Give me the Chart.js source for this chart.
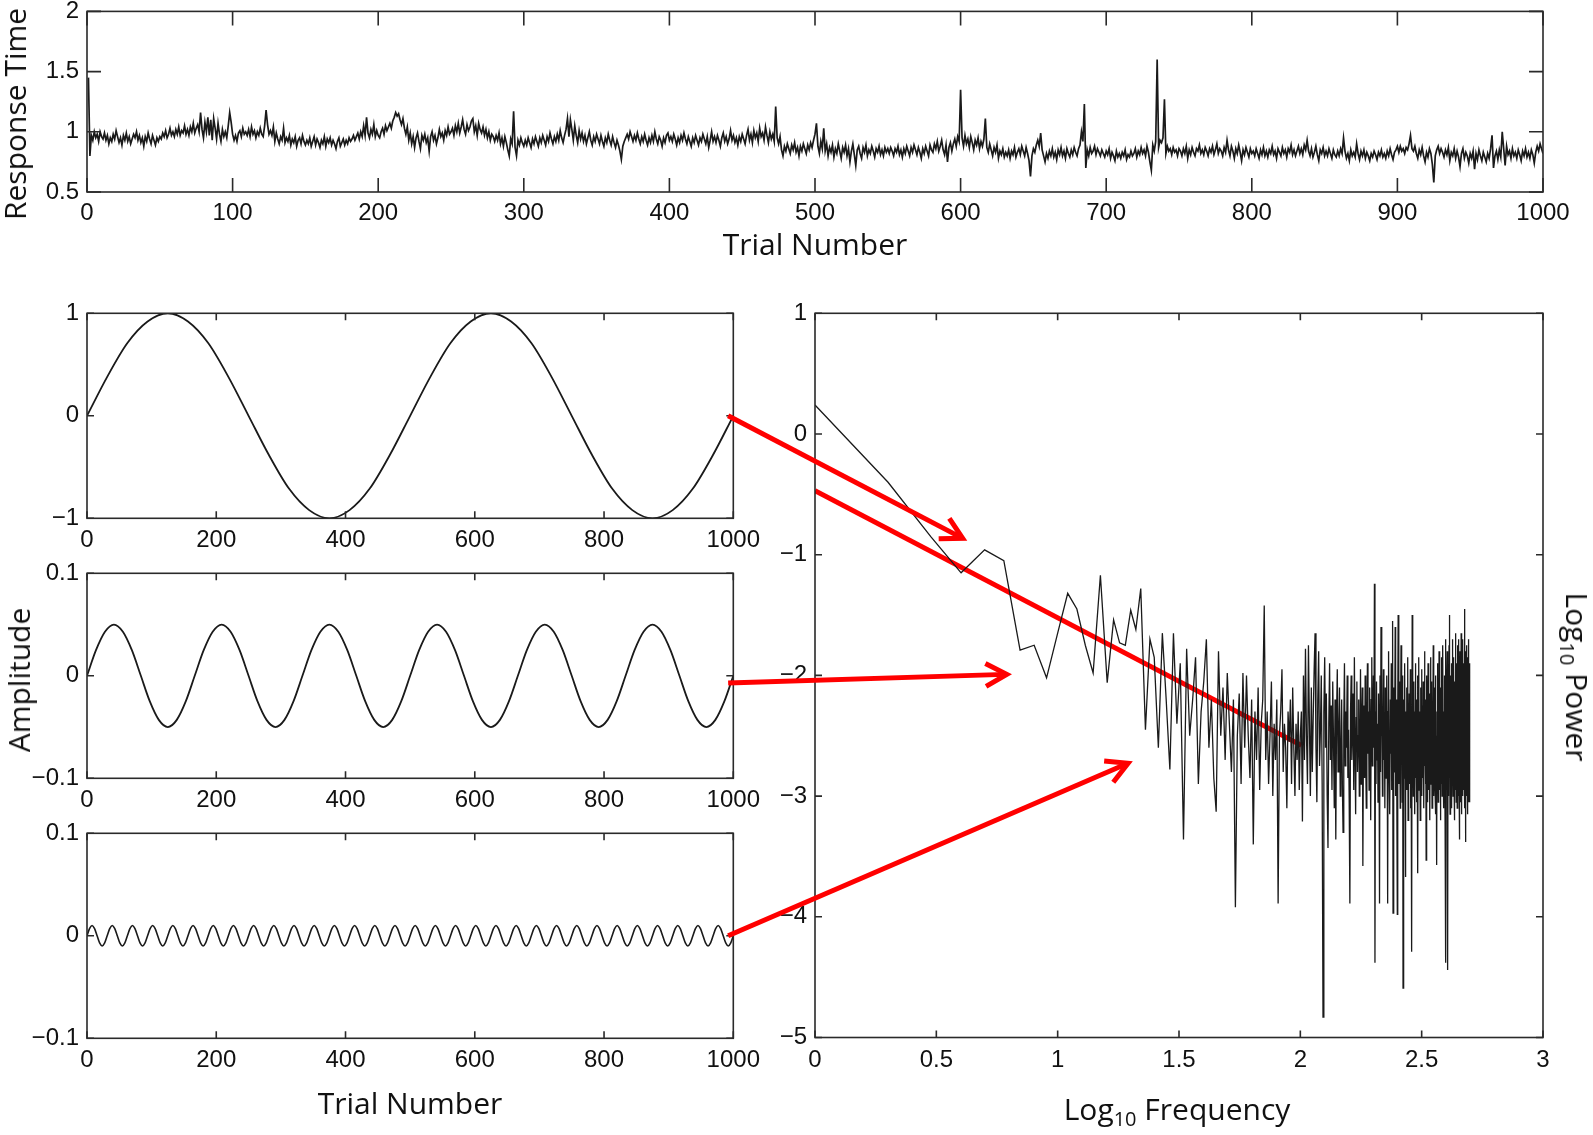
<!DOCTYPE html>
<html><head><meta charset="utf-8">
<script src="https://cdn.jsdelivr.net/npm/chart.js@4.4.1/dist/chart.umd.min.js"></script>
<style>
html,body{margin:0;padding:0;background:#fff;overflow:hidden}
#wrap{position:relative;width:1593px;height:1135px;background:#fff;overflow:hidden}
canvas{position:absolute;left:-40px;top:-40px}
.t{position:absolute;font-family:"Open Sans",sans-serif;font-size:30px;line-height:1;color:#111;white-space:nowrap}
.s{font-size:20px;position:relative;top:6px}
</style></head>
<body><div id="wrap">
<canvas id="cTop" width="1673" height="1215"></canvas>
<canvas id="cS1" width="1673" height="1215"></canvas>
<canvas id="cS2" width="1673" height="1215"></canvas>
<canvas id="cS3" width="1673" height="1215"></canvas>
<canvas id="cSpec" width="1673" height="1215"></canvas>
<div class="t" style="left:15px;top:114px;transform:translate(-50%,-50%) rotate(-90deg)">Response Time</div>
<div class="t" style="left:815px;top:244px;transform:translate(-50%,-50%)">Trial Number</div>
<div class="t" style="left:19px;top:680px;transform:translate(-50%,-50%) rotate(-90deg)">Amplitude</div>
<div class="t" style="left:410px;top:1103px;transform:translate(-50%,-50%)">Trial Number</div>
<div class="t" style="left:1177px;top:1109px;transform:translate(-50%,-50%)">Log<span class="s">10</span> Frequency</div>
<div class="t" style="left:1577px;top:677px;transform:translate(-50%,-50%) rotate(90deg)">Log<span class="s">10</span> Power</div>
</div>
<script>
// ---------- DATA ----------
const responseTimes = [
1.45,.80,.97,.93,1.0,.95,.98,.92,1.0,.96, .94,.99,.93,.97,.90,.95,.92,.98,.94,1.01, .96,.91,.95,.89,.97,.93,.99,.92,.96,.90, .94,.98,.95,1.0,.93,.97,.91,.95,.88,.96, .92,.99,.94,.90,.97,.93,.89,.95,.92,.96,
.94,.99,.96,1.01,.95,.98,1.03,.97,1.0,.96, 1.02,.98,1.04,.97,1.01,.99,1.05,.98,1.02,.97, 1.04,1.0,1.07,.99,1.03,1.06,1.0,1.16,1.02,.95, 1.08,1.0,1.12,.97,1.10,.93,1.11,1.03,.94,1.07, .98,.92,1.02,.96,1.0,.95,1.05,1.16,1.08,.98,
.93,.97,.92,.99,1.01,.96,1.03,.98,1.0,.97, 1.02,.96,1.04,.98,1.01,.95,1.0,.97,1.03,.98, .96,1.05,1.18,1.06,.98,1.01,.97,1.04,.92,.99, .94,.90,.96,.93,1.03,.91,.95,.92,.97,.89, .94,.91,.96,.88,.93,.95,.90,.97,.92,.89,
.93,.90,.95,.88,.92,.96,.89,.94,.91,.87, .93,.90,.96,.88,.94,.91,.95,.89,.93,.90, .86,.92,.95,.88,.91,.94,.89,.93,.90,.95, .92,.94,.97,.93,.96,.99,.94,1.0,.96,1.05, .97,1.12,.99,.95,1.02,.98,1.06,.96,1.01,.97,
.95,1.0,1.03,.98,1.05,1.01,1.04,1.07,1.03,1.09, 1.12,1.16,1.13,1.15,1.10,1.06,1.11,1.03,.98,1.04, .93,.99,.90,.96,.87,.95,.99,.92,.86,.97, .93,.98,.91,.95,.84,.96,1.0,.93,.97,.90, .95,1.02,.96,.99,.93,1.01,.97,1.04,.98,1.0,
1.03,.97,1.05,1.0,1.07,.99,1.04,1.10,1.02,.98, 1.06,1.01,1.04,1.09,1.11,1.0,1.05,.97,1.07,1.02, .99,1.04,.97,1.02,.95,1.0,.93,.98,.96,.92, .97,.93,.99,.90,.95,.88,.96,.91,.85,.80, .94,.90,1.17,.87,.80,.93,.89,.95,.91,.88,
.93,.89,.95,.91,.87,.94,.90,.96,.92,.88, .95,.91,.97,.93,.89,.96,.92,.99,.94,.90, .96,.92,.98,.93,1.01,.95,.91,.97,1.02,1.11, .96,1.10,1.02,.93,1.05,.97,.91,1.01,.94,.99, .92,.97,.90,.95,1.0,.93,.89,.96,.92,.98,
.94,.90,.97,.92,.88,.95,.91,.98,.93,.89, .96,.91,.87,.93,.89,.84,.77,.88,.92,.95, .98,.94,1.0,.96,.92,.97,.93,.99,.94,.90, .96,.92,.98,.93,.89,.95,.91,.97,.92,1.0, .94,.90,.96,.93,.88,.95,.91,.97,.99,.93,
.96,.92,.98,.94,.89,.95,.91,.97,.93,.99, .94,.90,.96,.92,.88,.95,.91,.97,.93,.89, .95,.92,.98,.94,.90,.96,.87,.93,1.0,.92, .96,.91,.97,.93,.88,.95,.99,.92,.96,.90, .94,1.01,.93,.97,.91,.95,.89,.96,.92,.98,
.94,.90,.97,1.02,.93,.98,.91,1.01,.95,.99, .92,1.03,.96,.99,.93,1.04,.97,.91,1.0,.94, .98,.92,1.21,.95,.90,.96,.85,.80,.88,.84, .90,.86,.82,.89,.85,.91,.83,.87,.80,.88, .84,.90,.86,.82,.89,.85,.91,.87,.93,.98,
1.07,.88,.82,.92,.86,1.03,.84,.90,.80,.87, .83,.89,.79,.86,.82,.90,.84,.78,.87,.83, .89,.80,.86,.75,.84,.90,.81,.72,.85,.88, .82,.78,.87,.83,.89,.80,.85,.82,.88,.84, .79,.86,.83,.88,.81,.85,.80,.87,.83,.86,
.82,.87,.84,.80,.86,.83,.88,.81,.85,.79, .86,.82,.88,.84,.80,.87,.83,.89,.85,.81, .87,.83,.78,.86,.82,.88,.84,.80,.89,.85, .83,.90,.86,.92,.84,.88,.93,.85,.81,.89, .75,.87,.91,.84,.90,.94,.88,.96,.92,1.35,
.95,.88,.97,.90,.94,.87,.96,.91,.85,.93, .89,.95,.86,.92,.88,.94,1.11,.87,.83,.90, .85,.80,.87,.83,.89,.78,.84,.81,.86,.79, .83,.80,.85,.78,.84,.81,.87,.79,.83,.86, .81,.88,.84,.80,.87,.82,.76,.63,.80,.86,
.83,.89,.93,.88,.99,.85,.80,.75,.82,.78, .84,.80,.86,.79,.83,.77,.85,.81,.87,.80, .84,.78,.86,.82,.79,.85,.81,.87,.83,.80, .86,.89,1.0,.92,1.23,.70,.85,.80,.87,.82, .84,.88,.81,.86,.83,.80,.85,.82,.79,.84,
.81,.86,.78,.83,.80,.76,.84,.79,.82,.78, .83,.80,.85,.77,.81,.79,.84,.80,.82,.86, .79,.84,.81,.87,.82,.85,.80,.88,.83,.75, .68,.89,.84,.92,1.60,.87,.93,.91,.95,1.27, .82,.88,.84,.86,.81,.87,.83,.85,.80,.86,
.84,.80,.86,.82,.88,.78,.85,.81,.87,.83, .80,.86,.84,.89,.82,.85,.81,.87,.84,.80, .86,.83,.88,.81,.85,.90,.82,.86,.84,.80, .87,.83,.93,.85,.80,.88,.84,.78,.86,.82, .89,.83,.76,.85,.81,.87,.83,.79,.86,.82,
.84,.80,.86,.82,.78,.85,.81,.87,.80,.84, .79,.85,.82,.88,.81,.84,.78,.86,.83,.80, .87,.82,.85,.79,.86,.83,.89,.81,.85,.80, .84,.88,.82,.86,.81,.89,.85,.93,.84,.80, .86,.79,.83,.88,.81,.76,.85,.82,.87,.80,
.84,.80,.86,.82,.78,.85,.81,.79,.84,.80, .86,.82,.95,.84,.78,.82,.76,.85,.80,.83, .79,.90,.82,.77,.84,.80,.85,.78,.83,.80, .76,.82,.79,.84,.81,.77,.83,.80,.85,.79, .82,.78,.84,.80,.86,.81,.77,.83,.85,.88,
.83,.88,.84,.86,.82,.87,.85,.90,.97,.86, .84,.88,.82,.78,.85,.81,.87,.80,.75,.83, .79,.86,.82,.73,.58,.80,.85,.88,.82,.86, .83,.79,.85,.81,.87,.76,.83,.80,.86,.78, .84,.79,.71,.82,.86,.78,.83,.80,.74,.82,
.78,.84,.69,.82,.77,.85,.80,.76,.83,.79, .75,.82,.78,.86,.97,.70,.80,.84,.77,.85, .79,1.0,.86,.72,.88,.81,.84,.78,.86,.80, .83,.78,.85,.81,.76,.84,.80,.86,.79,.83, .78,.85,.81,.74,.83,.88,.84,.90,.86,.82
];

// sine components, sampled at evenly spaced trials from 0 to 1000
const sine1Values = [
0,.38,.71,.92,1,.92,.71,.38,0,-.38,-.71,-.92,-1,-.92,-.71,-.38,
0,.38,.71,.92,1,.92,.71,.38,0,-.38,-.71,-.92,-1,-.92,-.71,-.38,
0];
const sine2Values = [
0,.025,.043,.05,.043,.025,0,-.025,-.043,-.05,-.043,-.025,
0,.025,.043,.05,.043,.025,0,-.025,-.043,-.05,-.043,-.025,
0,.025,.043,.05,.043,.025,0,-.025,-.043,-.05,-.043,-.025,
0,.025,.043,.05,.043,.025,0,-.025,-.043,-.05,-.043,-.025,
0,.025,.043,.05,.043,.025,0,-.025,-.043,-.05,-.043,-.025,
0,.025,.043,.05,.043,.025,0,-.025,-.043,-.05,-.043,-.025,
0];
const sine3Values = [
0,.007,.01,.007,0,-.007,-.01,-.007, 0,.007,.01,.007,0,-.007,-.01,-.007, 0,.007,.01,.007,0,-.007,-.01,-.007, 0,.007,.01,.007,0,-.007,-.01,-.007,
0,.007,.01,.007,0,-.007,-.01,-.007, 0,.007,.01,.007,0,-.007,-.01,-.007, 0,.007,.01,.007,0,-.007,-.01,-.007, 0,.007,.01,.007,0,-.007,-.01,-.007,
0,.007,.01,.007,0,-.007,-.01,-.007, 0,.007,.01,.007,0,-.007,-.01,-.007, 0,.007,.01,.007,0,-.007,-.01,-.007, 0,.007,.01,.007,0,-.007,-.01,-.007,
0,.007,.01,.007,0,-.007,-.01,-.007, 0,.007,.01,.007,0,-.007,-.01,-.007, 0,.007,.01,.007,0,-.007,-.01,-.007, 0,.007,.01,.007,0,-.007,-.01,-.007,
0,.007,.01,.007,0,-.007,-.01,-.007, 0,.007,.01,.007,0,-.007,-.01,-.007, 0,.007,.01,.007,0,-.007,-.01,-.007, 0,.007,.01,.007,0,-.007,-.01,-.007,
0,.007,.01,.007,0,-.007,-.01,-.007, 0,.007,.01,.007,0,-.007,-.01,-.007, 0,.007,.01,.007,0,-.007,-.01,-.007, 0,.007,.01,.007,0,-.007,-.01,-.007,
0,.007,.01,.007,0,-.007,-.01,-.007, 0,.007,.01,.007,0,-.007,-.01,-.007, 0,.007,.01,.007,0,-.007,-.01,-.007, 0,.007,.01,.007,0,-.007,-.01,-.007,
0,.007,.01,.007,0,-.007,-.01,-.007, 0,.007,.01,.007,0,-.007,-.01,-.007, 0,.007,.01,.007,0,-.007,-.01,-.007, 0,.007,.01,.007,0,-.007,-.01,-.007,
0];

const spectrumPower = [
.24,-.40,-.85,-1.15,-.96,-1.05,-1.79,-1.75,-2.02,-1.65,
-1.32,-1.45,-1.75,-1.98,-1.17,-2.06,-1.54,-1.73,-1.75,-1.46,
-1.62,-1.28,-2.45,-1.7,-1.85,-2.6,-1.65,-2.2,-2.78,-1.65,
-2.4,-1.9,-3.36,-1.78,-2.5,-2.2,-1.85,-2.9,-2.3,-2.05,
-1.7,-2.6,-2.2,-2.85,-3.13,-1.8,-2.5,-2.1,-2.7,-1.98,
-2.4,-2.8,-2.2,-3.92,-2.5,-2.15,-2.9,-1.98,-2.6,-2.0,
-2.5,-2.85,-2.2,-3.4,-2.3,-2.7,-2.1,-2.95,-2.4,-2.2,
-1.42,-2.7,-2.3,-2.9,-2.5,-2.05,-3.0,-2.4,-2.7,-2.2,
-3.89,-2.5,-2.3,-1.95,-2.8,-2.4,-2.6,-3.1,-2.3,-2.55,
-2.2,-2.9,-2.1,-2.6,-3.0,-2.4,-2.7,-2.3,-2.95,-2.5,
-2.3,-3.21,-2.0,-2.7,-1.78,-2.5,-2.9,-1.75,-2.4,-3.0,-2.1,-2.8,-2.35,-1.95,-1.65,-2.6,-3.05,-2.2,-1.8,-2.75,
-2.45,-2.0,-2.9,-4.83,-2.3,-1.85,-2.6,-2.15,-3.0,-3.43,-2.4,-1.9,-2.7,-2.25,-2.95,-2.05,-2.55,-3.1,-2.2,-3.36,
-2.35,-1.95,-2.8,-2.5,-2.1,-3.0,-2.65,-2.2,-2.9,-3.3,-2.4,-1.9,-2.75,-2.3,-2.6,-2.0,-2.85,-2.45,-3.05,-3.89,
-2.3,-2.0,-2.7,-2.45,-2.15,-2.95,-1.85,-2.6,-3.15,-2.35,-2.05,-2.8,-2.5,-2.2,-3.0,-2.65,-1.95,-2.9,-2.4,-2.1,
-3.58,-2.55,-2.25,-2.85,-2.0,-2.7,-3.1,-2.4,-1.9,-2.65,-2.3,-2.95,-2.1,-2.5,-3.2,-2.2,-1.85,-2.75,-2.45,-2.0,
-2.6,-1.24,-4.38,-2.3,-2.9,-2.05,-2.7,-2.4,-3.05,-2.15,-2.55,-3.89,-2.0,-2.8,-1.6,-2.5,-2.25,-3.0,-2.35,-1.95,
-2.7,-2.4,-3.1,-2.1,-2.6,-2.85,-2.0,-2.45,-3.89,-2.3,-1.8,-2.75,-2.5,-3.15,-2.2,-2.65,-1.9,-2.95,-2.4,-1.55,
-3.97,-2.5,-2.1,-2.8,-2.3,-1.6,-3.0,-2.45,-2.2,-2.7,-3.98,-2.35,-1.5,-2.6,-2.9,-2.05,-2.5,-3.1,-2.25,-1.75,
-2.65,-2.4,-3.05,-2.0,-4.59,-2.55,-2.2,-2.85,-1.9,-2.6,-3.67,-2.3,-2.75,-2.1,-2.95,-2.45,-1.85,-3.2,-2.4,-2.7,
-2.15,-2.9,-2.5,-1.95,-3.1,-2.35,-2.65,-4.29,-1.5,-2.8,-2.25,-3.0,-2.45,-2.05,-2.7,-3.15,-2.3,-1.9,-2.85,-2.55,
-2.2,-3.05,-2.6,-2.0,-3.64,-2.4,-2.75,-1.85,-2.95,-2.3,-2.5,-3.2,-2.1,-2.7,-2.4,-1.95,-3.0,-2.55,-2.25,-2.85,
-2.05,-2.6,-3.1,-2.35,-1.8,-2.75,-2.45,-2.9,-2.2,-3.53,-2.5,-2.0,-2.8,-2.35,-3.05,-1.9,-2.65,-2.4,-2.95,-2.15,
-2.7,-3.2,-2.3,-1.85,-2.6,-2.9,-2.45,-2.05,-3.1,-2.5,-2.25,-2.8,-1.75,-2.55,-3.0,-2.35,-2.7,-2.1,-2.95,-2.4,
-2.0,-3.15,-2.5,-2.8,-3.57,-2.3,-1.9,-2.65,-2.45,-3.05,-2.2,-2.75,-1.8,-2.6,-2.95,-2.35,-2.1,-3.2,-2.5,-2.7,
-1.85,-2.9,-2.4,-3.0,-2.2,-2.65,-1.75,-2.8,-2.5,-3.1,-2.3,-2.0,-2.75,-2.45,-3.25,-2.15,-1.7,-4.38,-2.6,-2.35,
-2.9,-2.1,-1.8,-2.7,-4.44,-2.45,-2.2,-3.0,-2.55,-1.75,-2.85,-1.5,-2.4,-3.15,-2.0,-2.65,-2.3,-2.95,-1.9,-2.5,
-3.1,-2.2,-2.75,-1.7,-2.45,-3.0,-2.1,-2.6,-1.85,-2.9,-2.35,-3.2,-2.05,-2.7,-1.65,-2.5,-2.95,-2.25,-3.05,-1.9,
-2.6,-2.35,-3.1,-1.75,-2.8,-2.45,-2.0,-3.0,-2.55,-1.7,-2.9,-2.2,-3.36,-2.65,-1.8,-2.4,-3.05,-2.1,-2.75,-1.65,
-2.5,-3.15,-2.3,-1.85,-2.85,-2.45,-3.0,-1.7,-2.6,-2.2,-2.95,-1.9,-2.7,-3.1,-1.45,-2.4,-2.8,-2.05,-3.38,-2.55,
-1.8,-2.65,-3.0,-2.3,-1.75,-2.9,-2.45,-3.15,-1.85,-2.6,-2.2,-3.05,-1.7,-2.75,-2.4,-3.0,-1.9,-2.55,-2.85,-3.05
];

// straight-line fit drawn over the spectrum (frequency, log10 power)
const fitFreq = [1, 101];
const fitPower = [-0.47, -2.58];

// arrows: from the end of each sine panel to a point in the spectrum
const arrowFromPanel = [0, 1, 2];
const arrowFromTrial = [992, 992, 992];
const arrowFromAmp = [0, -0.007, 0];
const arrowToFreq = [4.06, 6.17, 19.5];
const arrowToPower = [-0.864, -1.991, -2.728];

// tick labels
const topXTicks = [0,100,200,300,400,500,600,700,800,900,1000];
const topYTicks = [0.5,1,1.5,2];
const sineXTicks = [0,200,400,600,800,1000];
const sine1YTicks = [-1,0,1];
const sineSmallYTicks = [-0.1,0,0.1];
const specXTicksLog = [0,0.5,1,1.5,2,2.5,3];
const specYTicks = [-5,-4,-3,-2,-1,0,1];

// ---------- RENDER ----------
const trials = Array.from({length: responseTimes.length}, (_, i) => i + 1);
const frequencies = Array.from({length: spectrumPower.length}, (_, i) => i + 1);
const sampleTrials = vals => vals.map((_, i) => i * 1000 / (vals.length - 1));
const pts = (xs, ys) => ys.map((y, i) => ({x: xs[i], y}));

function fmt(v) {
  const r = Math.round(v * 1000) / 1000;
  if (Math.abs(r) < 1e-9) return '0';
  return (r < 0 ? '\u2212' : '') + String(Math.abs(r));
}

const framePlugin = {
  id: 'frame',
  afterDatasetsDraw(chart, args, opts) {
    const {ctx, chartArea: a, scales} = chart;
    const L = opts.tickLen || 7;
    ctx.save();
    ctx.strokeStyle = '#2a2a2a';
    ctx.lineWidth = 1.6;
    ctx.strokeRect(a.left, a.top, a.right - a.left, a.bottom - a.top);
    ctx.beginPath();
    scales.x.ticks.forEach(t => {
      const p = scales.x.getPixelForValue(t.value);
      ctx.moveTo(p, a.bottom); ctx.lineTo(p, a.bottom - L);
      ctx.moveTo(p, a.top); ctx.lineTo(p, a.top + L);
    });
    scales.y.ticks.forEach(t => {
      const p = scales.y.getPixelForValue(t.value);
      ctx.moveTo(a.left, p); ctx.lineTo(a.left + L, p);
      ctx.moveTo(a.right, p); ctx.lineTo(a.right - L, p);
    });
    ctx.stroke();
    ctx.restore();
  }
};

const OFF = 40, Y_W = 70, X_H = 50, W = 1593 + 2 * OFF, H = 1135 + 2 * OFF;
const TICK_FONT = '"Liberation Sans", Arial, Helvetica, sans-serif';

function makeChart(id, area, datasets, xCfg, yCfg, fontSize, tickLen, extraPlugins) {
  const l = area.l + OFF, r = area.r + OFF, t = area.t + OFF, b = area.b + OFF;
  return new Chart(document.getElementById(id), {
    type: 'line',
    data: {datasets},
    options: {
      responsive: false, animation: false, events: [],
      layout: {padding: {left: l - Y_W, right: W - r, top: t, bottom: H - b - X_H}},
      plugins: {legend: {display: false}, tooltip: {enabled: false}, frame: {tickLen}},
      elements: {point: {radius: 0}},
      scales: {
        x: Object.assign({
          grid: {display: false, drawTicks: false}, border: {display: false},
          ticks: {color: '#111', font: {family: TICK_FONT, size: fontSize, lineHeight: 1.2}, padding: xCfg.pad, maxRotation: 0, autoSkip: false, callback: xCfg.cb || (v => fmt(v))},
          afterFit: s => { s.height = X_H; },
          afterBuildTicks: s => { s.ticks = xCfg.ticks.map(v => ({value: v})); }
        }, xCfg.base),
        y: {
          type: 'linear', min: yCfg.min, max: yCfg.max,
          grid: {display: false, drawTicks: false}, border: {display: false},
          ticks: {color: '#111', font: {family: TICK_FONT, size: fontSize, lineHeight: 1}, padding: 8, autoSkip: false, callback: v => fmt(v)},
          afterFit: s => { s.width = Y_W; },
          afterBuildTicks: s => { s.ticks = yCfg.ticks.map(v => ({value: v})); }
        }
      }
    },
    plugins: [framePlugin].concat(extraPlugins || [])
  });
}

const lineStyle = {borderColor: '#1a1a1a', pointRadius: 0, fill: false};

makeChart('cTop', {l: 87, r: 1543, t: 11.4, b: 192},
  [Object.assign({data: pts(trials, responseTimes), borderWidth: 1.7, tension: 0}, lineStyle)],
  {base: {type: 'linear', min: 0, max: 1000}, ticks: topXTicks, pad: 7},
  {min: 0.5, max: 2, ticks: topYTicks}, 24, 14);

const sineCharts = [];
sineCharts.push(makeChart('cS1', {l: 87, r: 733.3, t: 313.3, b: 518.3},
  [Object.assign({data: pts(sampleTrials(sine1Values), sine1Values), borderWidth: 1.8, cubicInterpolationMode: 'monotone'}, lineStyle)],
  {base: {type: 'linear', min: 0, max: 1000}, ticks: sineXTicks, pad: 8},
  {min: -1, max: 1, ticks: sine1YTicks}, 24, 7));
sineCharts.push(makeChart('cS2', {l: 87, r: 733.3, t: 573.3, b: 778.3},
  [Object.assign({data: pts(sampleTrials(sine2Values), sine2Values), borderWidth: 1.8, cubicInterpolationMode: 'monotone'}, lineStyle)],
  {base: {type: 'linear', min: 0, max: 1000}, ticks: sineXTicks, pad: 8},
  {min: -0.1, max: 0.1, ticks: sineSmallYTicks}, 24, 7));
sineCharts.push(makeChart('cS3', {l: 87, r: 733.3, t: 833.3, b: 1038.3},
  [Object.assign({data: pts(sampleTrials(sine3Values), sine3Values), borderWidth: 1.6, cubicInterpolationMode: 'monotone'}, lineStyle)],
  {base: {type: 'linear', min: 0, max: 1000}, ticks: sineXTicks, pad: 8},
  {min: -0.1, max: 0.1, ticks: sineSmallYTicks}, 24, 7));

const arrowPlugin = {
  id: 'arrows',
  afterDraw(chart) {
    const ctx = chart.ctx;
    ctx.save();
    ctx.strokeStyle = '#ff0000';
    ctx.lineWidth = 5;
    ctx.lineCap = 'butt';
    ctx.lineJoin = 'miter';
    for (let i = 0; i < arrowToFreq.length; i++) {
      const src = sineCharts[arrowFromPanel[i]];
      const x0 = src.scales.x.getPixelForValue(arrowFromTrial[i]);
      const y0 = src.scales.y.getPixelForValue(arrowFromAmp[i]);
      const x1 = chart.scales.x.getPixelForValue(arrowToFreq[i]);
      const y1 = chart.scales.y.getPixelForValue(arrowToPower[i]);
      const ang = Math.atan2(y1 - y0, x1 - x0);
      const head = 24, spread = 0.5;
      ctx.beginPath(); ctx.moveTo(x0, y0); ctx.lineTo(x1 - 2 * Math.cos(ang), y1 - 2 * Math.sin(ang)); ctx.stroke();
      ctx.beginPath();
      ctx.moveTo(x1 - head * Math.cos(ang - spread), y1 - head * Math.sin(ang - spread));
      ctx.lineTo(x1, y1);
      ctx.lineTo(x1 - head * Math.cos(ang + spread), y1 - head * Math.sin(ang + spread));
      ctx.stroke();
    }
    ctx.restore();
  }
};

makeChart('cSpec', {l: 815, r: 1543, t: 313.3, b: 1037.5},
  [Object.assign({data: pts(frequencies, spectrumPower), borderWidth: 1.3, tension: 0}, lineStyle),
   {data: pts(fitFreq, fitPower), borderColor: '#ff0000', borderWidth: 5, pointRadius: 0, fill: false}],
  {base: {type: 'logarithmic', min: 1, max: 1000}, ticks: specXTicksLog.map(e => Math.pow(10, e)), pad: 8, cb: v => fmt(Math.log10(v))},
  {min: -5, max: 1, ticks: specYTicks}, 24, 7, [arrowPlugin]);
</script>
</body></html>
